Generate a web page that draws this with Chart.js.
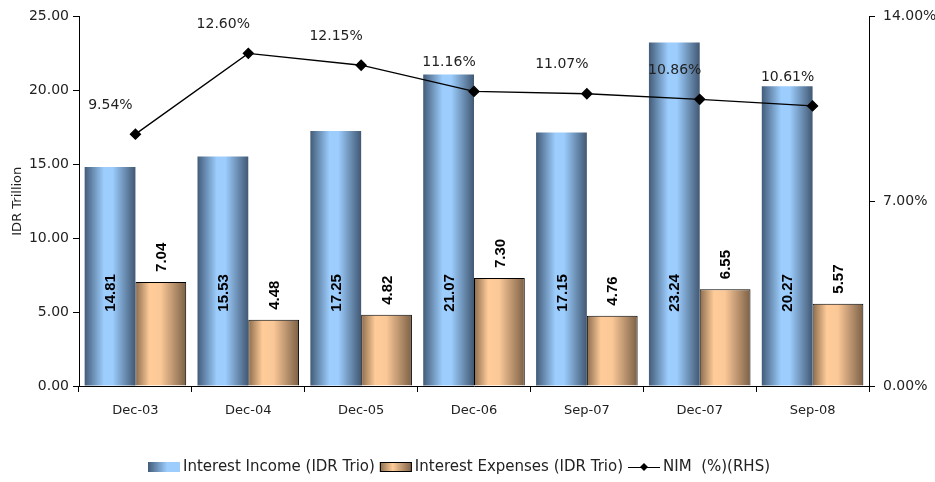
<!DOCTYPE html>
<html>
<head>
<meta charset="utf-8">
<script src="https://cdn.jsdelivr.net/npm/chart.js@4"></script>
<style>
  html, body { margin: 0; padding: 0; background: #fff; }
  #wrap { width: 935px; height: 482px; }
</style>
</head>
<body>
<div id="wrap"><canvas id="nimChart" width="935" height="482"></canvas></div>
<script>
const categories = ["Dec-03", "Dec-04", "Dec-05", "Dec-06", "Sep-07", "Dec-07", "Sep-08"];
const interestIncome = [14.81, 15.53, 17.25, 21.07, 17.15, 23.24, 20.27];
const interestExpenses = [7.04, 4.48, 4.82, 7.30, 4.76, 6.55, 5.57];
const nimPct = [9.54, 12.60, 12.15, 11.16, 11.07, 10.86, 10.61];
const leftTicks = [0, 5, 10, 15, 20, 25];
const rightTicks = [0, 7, 14];

const FONT = '"DejaVu Sans", sans-serif';
const BOLD = '"Liberation Sans", Arial, sans-serif';
const CAT_PCT = 0.9;

// horizontal shading of each bar, worked out from the x scale
function barGradient(context, which) {
    const flat = which === 0 ? "#9ccdfd" : "#ffcc99";
    const chart = context.chart;
    const xs = chart.scales && chart.scales.x;
    if (!xs || context.dataIndex === undefined) return flat;
    const center = xs.getPixelForValue(context.dataIndex);
    const group = (xs.width / categories.length) * CAT_PCT;
    const left = which === 0 ? center - group / 2 : center;
    const w = group / 2;
    if (!isFinite(left) || !isFinite(w) || w <= 0) return flat;
    const g = chart.ctx.createLinearGradient(left, 0, left + w, 0);
    if (which === 0) {
        g.addColorStop(0, "#435c79");
        g.addColorStop(0.38, "#9ccdfd");
        g.addColorStop(0.55, "#9ccdfd");
        g.addColorStop(1, "#415873");
    } else {
        g.addColorStop(0, "#8a6b4c");
        g.addColorStop(0.28, "#ffcc99");
        g.addColorStop(0.5, "#fac797");
        g.addColorStop(1, "#7b6046");
    }
    return g;
}

/* ---------- value labels ---------- */
const valueLabels = {
    id: "valueLabels",
    afterDatasetsDraw(chart) {
        const ctx = chart.ctx;
        const y = chart.scales.y;
        ctx.save();

        // income: rotated, in the lower part of the bar
        ctx.font = "bold 15px " + BOLD;
        ctx.fillStyle = "#000";
        ctx.textAlign = "center";
        ctx.textBaseline = "middle";
        chart.getDatasetMeta(0).data.forEach((el, i) => {
            ctx.save();
            ctx.translate(el.x + 1, y.getPixelForValue(6.3));
            ctx.rotate(-Math.PI / 2);
            ctx.fillText(interestIncome[i].toFixed(2), 0, 0);
            ctx.restore();
        });

        // expenses: rotated, just above the bar
        ctx.textAlign = "left";
        chart.getDatasetMeta(1).data.forEach((el, i) => {
            ctx.save();
            ctx.translate(el.x + 1, el.y - 10);
            ctx.rotate(-Math.PI / 2);
            ctx.fillText(interestExpenses[i].toFixed(2), 0, 0);
            ctx.restore();
        });

        // NIM labels
        ctx.font = "14px " + FONT;
        ctx.fillStyle = "#222";
        ctx.textAlign = "center";
        chart.getDatasetMeta(2).data.forEach((el, i) => {
            ctx.fillText(nimPct[i].toFixed(2) + "%", el.x - 25, el.y - 29);
        });
        ctx.restore();
    }
};

/* ---------- legend at the bottom ---------- */
const bottomLegend = {
    id: "bottomLegend",
    afterDraw(chart) {
        const ctx = chart.ctx;
        const cy = 467;
        ctx.save();
        ctx.font = "15px " + FONT;
        ctx.textBaseline = "middle";
        const items = [
            { kind: 0, text: "Interest Income (IDR Trio)" },
            { kind: 1, text: "Interest Expenses (IDR Trio)" },
            { kind: 2, text: "NIM  (%)(RHS)" }
        ];
        let x = 148;
        items.forEach((it) => {
            if (it.kind < 2) {
                const g = ctx.createLinearGradient(x, 0, x + 32, 0);
                if (it.kind === 0) {
                    g.addColorStop(0, "#435c79");
                    g.addColorStop(0.6, "#9ccdfd");
                    g.addColorStop(1, "#9ccdfd");
                } else {
                    g.addColorStop(0, "#8a6b4c");
                    g.addColorStop(0.4, "#ffcc99");
                    g.addColorStop(1, "#7b6046");
                }
                ctx.fillStyle = g;
                ctx.fillRect(x, cy - 5, 32, 10);
                if (it.kind === 1) {
                    ctx.strokeStyle = "#000";
                    ctx.lineWidth = 1;
                    ctx.strokeRect(x + 0.5, cy - 4.5, 31, 9);
                }
            } else {
                ctx.strokeStyle = "#000";
                ctx.lineWidth = 1;
                ctx.beginPath();
                ctx.moveTo(x, cy + 0.5);
                ctx.lineTo(x + 32, cy + 0.5);
                ctx.stroke();
                ctx.fillStyle = "#000";
                ctx.beginPath();
                ctx.moveTo(x + 16, cy - 4);
                ctx.lineTo(x + 20, cy);
                ctx.lineTo(x + 16, cy + 4);
                ctx.lineTo(x + 12, cy);
                ctx.closePath();
                ctx.fill();
            }
            x += 32 + 3;
            ctx.fillStyle = "#222";
            ctx.fillText(it.text, x, cy);
            x += ctx.measureText(it.text).width + 5;
        });
        ctx.restore();
    }
};

new Chart(document.getElementById("nimChart"), {
    type: "bar",
    data: {
        labels: categories,
        datasets: [
            {
                label: "Interest Income (IDR Trio)",
                data: interestIncome,
                backgroundColor: (c) => barGradient(c, 0),
                borderWidth: 0,
                yAxisID: "y",
                order: 1,
                categoryPercentage: CAT_PCT,
                barPercentage: 1.0
            },
            {
                label: "Interest Expenses (IDR Trio)",
                data: interestExpenses,
                backgroundColor: (c) => barGradient(c, 1),
                borderColor: "#000",
                borderWidth: 1,
                yAxisID: "y",
                order: 1,
                categoryPercentage: CAT_PCT,
                barPercentage: 1.0
            },
            {
                type: "line",
                label: "NIM  (%)(RHS)",
                data: nimPct,
                borderColor: "#000",
                borderWidth: 1.3,
                pointStyle: "rectRot",
                pointRadius: 5,
                pointBackgroundColor: "#000",
                pointBorderColor: "#000",
                tension: 0,
                yAxisID: "y1",
                order: 0
            }
        ]
    },
    options: {
        responsive: false,
        animation: false,
        layout: { padding: { top: 16, left: 0, right: 0, bottom: 0 } },
        plugins: {
            legend: { display: false },
            tooltip: { enabled: false }
        },
        scales: {
            x: {
                grid: {
                    offset: true,
                    drawOnChartArea: false,
                    drawTicks: true,
                    tickLength: 6,
                    color: "#000"
                },
                border: { display: true, color: "#000", width: 1 },
                ticks: {
                    color: "#222",
                    padding: 11,
                    font: { family: FONT, size: 13 }
                },
                afterFit(scale) { scale.height = 96; }
            },
            y: {
                position: "left",
                min: 0,
                max: 25,
                afterBuildTicks(scale) { scale.ticks = leftTicks.map((v) => ({ value: v })); },
                grid: { drawOnChartArea: false, tickLength: 6, color: "#000" },
                border: { display: true, color: "#000", width: 1 },
                ticks: {
                    color: "#222",
                    padding: 4,
                    font: { family: FONT, size: 14 },
                    callback: (v) => Number(v).toFixed(2)
                },
                title: {
                    display: true,
                    text: "IDR Trillion",
                    color: "#222",
                    font: { family: FONT, size: 13 },
                    padding: { top: 10, bottom: 0 }
                },
                afterFit(scale) { scale.width = 79; }
            },
            y1: {
                position: "right",
                min: 0,
                max: 14,
                afterBuildTicks(scale) { scale.ticks = rightTicks.map((v) => ({ value: v })); },
                grid: { drawOnChartArea: false, tickLength: 6, color: "#000" },
                border: { display: true, color: "#000", width: 1 },
                ticks: {
                    color: "#222",
                    padding: 8,
                    font: { family: FONT, size: 14 },
                    callback: (v) => Number(v).toFixed(2) + "%"
                },
                afterFit(scale) { scale.width = 66; }
            }
        }
    },
    plugins: [valueLabels, bottomLegend]
});
</script>
</body>
</html>
